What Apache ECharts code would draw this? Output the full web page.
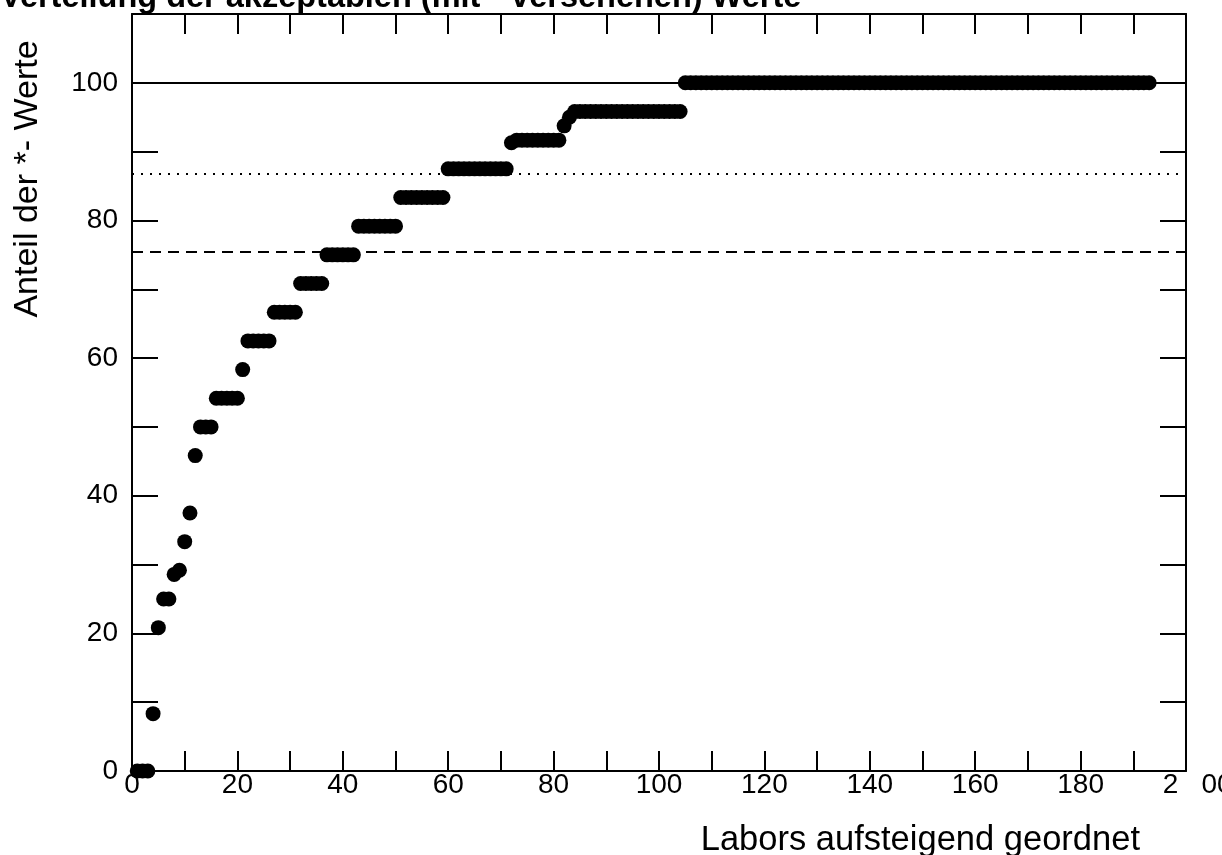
<!DOCTYPE html>
<html lang="de">

<head>
  <meta charset="UTF-8">
  <title>Verteilung der akzeptablen Werte</title>
  <script src="https://cdn.jsdelivr.net/npm/echarts@6.0.0/dist/echarts.min.js"></script>
  <style>
    html, body { margin: 0; padding: 0; background: #fff; }
  </style>
</head>

<body>
  <div id="main" style="width: 1222px;height:855px;"></div>

  <script type="text/javascript">
    // Stufen der Anteile (%) und wie viele Labors jeweils darauf liegen
    const levels = [0, 8.33, 20.83, 25, 28.57, 29.17, 33.33, 37.5, 45.83, 50, 54.17, 58.33,
      62.5, 66.67, 70.83, 75, 79.17, 83.33, 87.5, 91.3, 91.67, 93.75, 95, 95.83, 100];
    const runs = [3, 1, 1, 2, 1, 1, 1, 1, 1, 3, 5, 1,
      5, 5, 5, 6, 8, 9, 12, 1, 9, 1, 1, 21, 89];

    // Referenzlinien
    const refValues = [100, 86.8, 75.45];
    const refTypes = ['solid', [2, 7], [11, 7]];

    const xTickLabels = { 0: '0', 20: '20', 40: '40', 60: '60', 80: '80', 100: '100',
      120: '120', 140: '140', 160: '160', 180: '180', 200: '   2   00' };
    const yTickLabels = { 0: '0', 20: '20', 40: '40', 60: '60', 80: '80', 100: '100' };

    // Punkte: Labor-Nummer (aufsteigend) gegen Anteil
    const points = [];
    levels.forEach((v, i) => {
      for (let k = 0; k < runs[i]; k++) points.push([points.length + 1, v]);
    });

    const font = 'Liberation Sans, Arial, sans-serif';

    let myChart = echarts.init(document.getElementById('main'));

    const options = {
      animation: false,
      title: {
        text: 'Verteilung der akzeptablen (mit * versehenen) Werte',
        left: 0,
        top: -18,
        padding: 0,
        textStyle: { fontFamily: font, fontSize: 32.5, fontWeight: 'bold', color: '#000' }
      },
      graphic: [
        {
          type: 'text', x: 28, y: 179, rotation: Math.PI / 2,
          style: { text: 'Anteil der *- Werte', font: '34px ' + font, fill: '#000',
            align: 'center', verticalAlign: 'middle' }
        },
        {
          type: 'text', x: 1140, y: 840,
          style: { text: 'Labors aufsteigend geordnet', font: '34.5px ' + font, fill: '#000',
            align: 'right', verticalAlign: 'middle' }
        }
      ],
      grid: { left: 132, right: 36, top: 14, bottom: 84, outerBoundsMode: 'none' },
      xAxis: [
        {
          type: 'value', min: 0, max: 200, interval: 10, position: 'bottom',
          axisLine: { onZero: false, lineStyle: { color: '#000', width: 2 } },
          axisTick: { inside: true, length: 20, lineStyle: { color: '#000', width: 2 } },
          axisLabel: {
            margin: 0, color: '#000', fontFamily: font, fontSize: 28,
            formatter: v => xTickLabels[v] || ''
          },
          splitLine: { show: false }
        },
        {
          type: 'value', min: 0, max: 200, interval: 10, position: 'top',
          axisLine: { onZero: false, lineStyle: { color: '#000', width: 2 } },
          axisTick: { inside: true, length: 20, lineStyle: { color: '#000', width: 2 } },
          axisLabel: { show: false },
          splitLine: { show: false }
        }
      ],
      yAxis: [
        {
          type: 'value', min: 0, max: 110, interval: 10, position: 'left',
          axisLine: { onZero: false, lineStyle: { color: '#000', width: 2 } },
          axisTick: { inside: true, length: 26, lineStyle: { color: '#000', width: 2 } },
          axisLabel: {
            margin: 14, color: '#000', fontFamily: font, fontSize: 28,
            formatter: v => yTickLabels[v] || ''
          },
          splitLine: { show: false }
        },
        {
          type: 'value', min: 0, max: 110, interval: 10, position: 'right',
          axisLine: { onZero: false, lineStyle: { color: '#000', width: 2 } },
          axisTick: { inside: true, length: 26, lineStyle: { color: '#000', width: 2 } },
          axisLabel: { show: false },
          splitLine: { show: false }
        }
      ],
      series: [{
        name: 'Anteil',
        type: 'scatter',
        symbol: 'circle',
        symbolSize: 15,
        itemStyle: { color: '#000', opacity: 1 },
        data: points,
        markLine: {
          silent: true,
          symbol: 'none',
          label: { show: false },
          z: 1,
          data: refValues.map((v, i) => ({
            yAxis: v,
            lineStyle: { color: '#000', width: 2, type: refTypes[i] }
          }))
        }
      }]
    };

    myChart.setOption(options);
  </script>
</body>

</html>
